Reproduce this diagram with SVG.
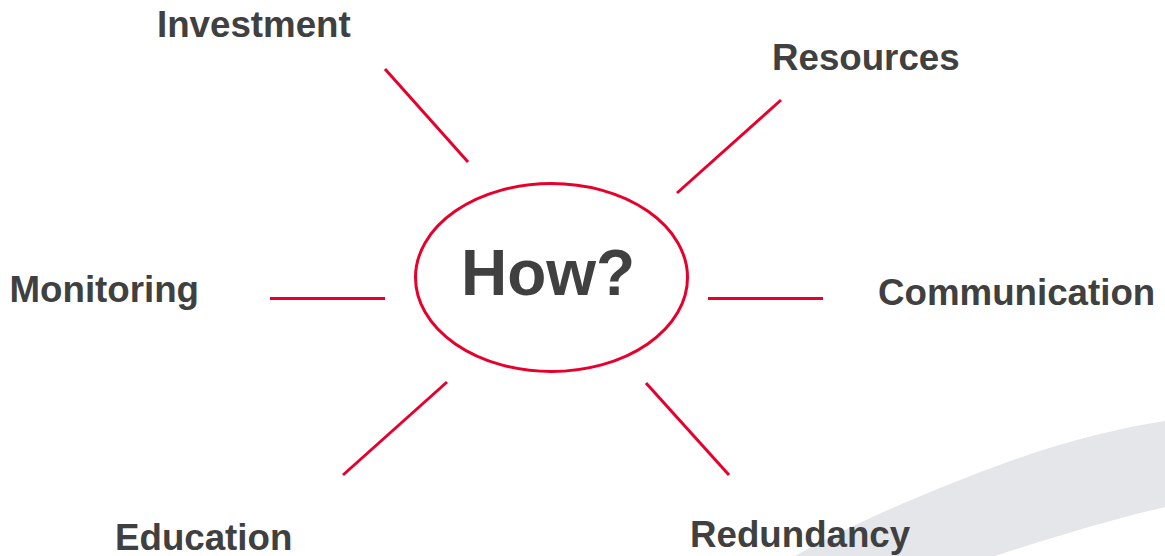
<svg xmlns="http://www.w3.org/2000/svg" width="1165" height="556" viewBox="0 0 1165 556">
<style>
.lbl{font-family:"Liberation Sans",Arial,sans-serif;font-weight:bold;font-size:36.7px;fill:#404040}
.big{font-family:"Liberation Sans",Arial,sans-serif;font-weight:bold;font-size:64px;fill:#404040}
.con{stroke:#e8002d;stroke-width:3;fill:none}
</style>
<rect width="1165" height="556" fill="#ffffff"/>
<path d="M795,556 C850,525 930,490 1013,460 C1070,440 1120,428 1165,421 L1165,507 C1110,520 1050,538 995,556 Z" fill="#e4e6e9"/>
<g id="connectors">
<line class="con" x1="385" y1="69" x2="468" y2="162"/>
<line class="con" x1="781" y1="100" x2="677" y2="193"/>
<line class="con" x1="270" y1="298.5" x2="385" y2="298.5"/>
<line class="con" x1="708" y1="298.5" x2="823" y2="298.5"/>
<line class="con" x1="447" y1="382" x2="343" y2="475"/>
<line class="con" x1="646" y1="383" x2="729" y2="475"/>
</g>
<g id="center">
<ellipse cx="551.5" cy="277.5" rx="136" ry="94" fill="none" stroke="#e8002d" stroke-width="3"/>
<text class="big" x="461" y="295">How?</text>
</g>
<g id="investment"><text class="lbl" x="157" y="37">Investment</text></g>
<g id="resources"><text class="lbl" x="772" y="70">Resources</text></g>
<g id="monitoring"><text class="lbl" x="9.5" y="302">Monitoring</text></g>
<g id="communication"><text class="lbl" x="878" y="305">Communication</text></g>
<g id="education"><text class="lbl" x="115" y="550">Education</text></g>
<g id="redundancy"><text class="lbl" x="690" y="547">Redundancy</text></g>
</svg>
